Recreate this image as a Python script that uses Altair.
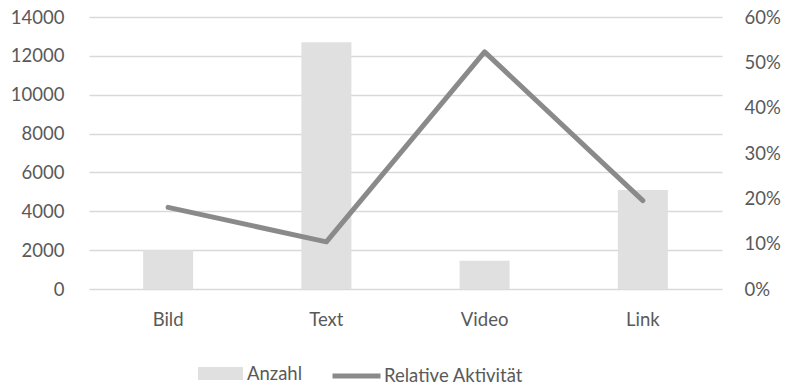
import altair as alt
import pandas as pd

categories = ["Bild", "Text", "Video", "Link"]
anzahl = [2000, 12700, 1450, 5100]
aktivitaet = [0.18, 0.104, 0.523, 0.195]
left_ticks = [0, 2000, 4000, 6000, 8000, 10000, 12000, 14000]
right_ticks = [0, 0.1, 0.2, 0.3, 0.4, 0.5, 0.6]
series_bar = "Anzahl"
series_line = "Relative Aktivität"

df = pd.DataFrame({
    "Kategorie": categories,
    "Anzahl": anzahl,
    "Aktivitaet": aktivitaet,
    "s_bar": [series_bar] * len(categories),
    "s_line": [series_line] * len(categories),
})

FONT = "Lato"
TXT = "#595959"
FS = 18.5

x = alt.X(
    "Kategorie:N",
    sort=categories,
    scale=alt.Scale(paddingInner=0, paddingOuter=0),
    axis=alt.Axis(title=None, labelAngle=0, domain=False, ticks=False,
                  labelPadding=21, grid=False),
)

bar = alt.Chart(df).mark_bar(size=50).encode(
    x=x,
    y=alt.Y("Anzahl:Q",
            scale=alt.Scale(domain=[0, 14000], nice=False),
            axis=alt.Axis(title=None, values=left_ticks, format="d", domain=False,
                          ticks=False, grid=True, gridColor="#d9d9d9", gridWidth=1.3,
                          labelPadding=25)),
    fill=alt.Fill("s_bar:N",
                  scale=alt.Scale(domain=[series_bar], range=["#e0e0e0"]),
                  legend=alt.Legend(title=None, orient="none", legendX=109, legendY=334,
                                    symbolType="M-1,-0.29H1V0.29H-1Z", symbolSize=2025,
                                    symbolStrokeWidth=0, padding=0, labelOffset=4,
                                    labelLimit=400)),
)

line = alt.Chart(df).mark_line(strokeWidth=5, strokeCap="round", strokeJoin="round").encode(
    x=x,
    y=alt.Y("Aktivitaet:Q",
            scale=alt.Scale(domain=[0, 0.6], nice=False),
            axis=alt.Axis(title=None, values=right_ticks, format=".0%", orient="right",
                          domain=False, ticks=False, grid=False, labelPadding=22)),
    stroke=alt.Stroke("s_line:N",
                      scale=alt.Scale(domain=[series_line], range=["#8a8a8a"]),
                      legend=alt.Legend(title=None, orient="none", legendX=241, legendY=332.5,
                                        symbolType="stroke", symbolSize=2304,
                                        symbolStrokeWidth=5, padding=0, labelOffset=1,
                                        labelLimit=400)),
)

chart = alt.layer(bar, line).resolve_scale(y="independent").properties(
    width=633,
    height=272,
    autosize=alt.AutoSizeParams(type="none"),
    padding={"left": 89, "top": 17, "right": 67, "bottom": 95},
).configure_axis(
    labelFont=FONT, labelFontSize=FS, labelColor=TXT,
).configure_legend(
    labelFont=FONT, labelFontSize=FS, labelColor=TXT,
).configure_view(stroke=None)

chart.save("out.html", embed_options={"renderer": "svg", "actions": False})
